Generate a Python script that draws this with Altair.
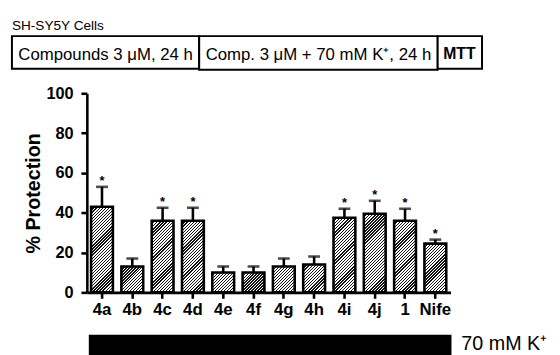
import math
import altair as alt
import pandas as pd

# ---- data ----
categories = ["4a", "4b", "4c", "4d", "4e", "4f", "4g", "4h", "4i", "4j", "1", "Nife"]
means = [43, 13, 36, 36, 10, 10, 13, 14, 37.5, 39.5, 36, 24.5]
sems = [10, 4, 6.5, 6.5, 3, 3, 4, 4, 4.5, 6.5, 6, 2]
significant = [True, False, True, True, False, False, False, False, True, True, True, True]
y_ticks = [0, 20, 40, 60, 80, 100]
header_title = "SH-SY5Y Cells"
stage_labels = ["Compounds 3 \u03bcM, 24 h", "Comp. 3 \u03bcM + 70 mM K\u207a, 24 h", "MTT"]
treatment_label = "70 mM K\u207a"
y_title = "% Protection"

# ---- layout / style ----
W, H = 369, 202
PAD_IN, PAD_OUT = 0.28, 0.14
FONT = "Liberation Sans"
LW = 2.6

df = pd.DataFrame({
    "cat": categories,
    "mean": means,
    "upper": [m + s for m, s in zip(means, sems)],
    "star": ["*" if s else "" for s in significant],
})

step = W / (len(categories) - PAD_IN + 2 * PAD_OUT)
bw = step * (1 - PAD_IN)


def hatch(v, period=2.2, dark=0.42):
    w = bw
    h = max(v / 100 * H, 1)
    s = (w + h) / (w * w + h * h)
    length = (w + h) / math.sqrt(2)
    n = max(1, round(length / period))
    stops = []
    for k in range(n):
        a = k / n
        b = (k + dark) / n
        stops += [
            {"offset": a, "color": "#111111"},
            {"offset": b, "color": "#111111"},
            {"offset": b, "color": "#ffffff"},
            {"offset": (k + 1) / n, "color": "#ffffff"},
        ]
    return {"gradient": "linear", "x1": 0, "y1": 0, "x2": s * w, "y2": s * h, "stops": stops}


fill_conditions = [
    {"test": f"datum.cat === '{c}'", "value": hatch(m)} for c, m in zip(categories, means)
]

x_enc = alt.X(
    "cat:N",
    sort=None,
    scale=alt.Scale(domain=categories, paddingInner=PAD_IN, paddingOuter=PAD_OUT),
    axis=alt.Axis(
        title=None, labelAngle=0, labelFont=FONT, labelFontSize=17, labelFontWeight="bold",
        labelColor="black", tickSize=6, tickWidth=LW, tickColor="black", domainWidth=LW,
        domainColor="black", labelPadding=3, bandPosition=0.5, grid=False,
    ),
)
y_enc = alt.Y(
    "mean:Q",
    scale=alt.Scale(domain=[0, 100], nice=False, zero=True),
    axis=alt.Axis(
        values=y_ticks, title=y_title, titleFont=FONT, titleFontSize=20, titleFontWeight="bold",
        titleColor="black", titleAngle=270, titleX=-48, titleY=H / 2, titleAlign="center",
        titleBaseline="alphabetic", labelFont=FONT, labelFontSize=16.5, labelFontWeight="bold",
        labelColor="black", tickSize=6, tickWidth=LW, tickColor="black", domainWidth=LW,
        domainColor="black", labelPadding=8, grid=False,
    ),
)

base = alt.Chart(df)

bars = base.mark_bar(stroke="black", strokeWidth=LW, strokeJoin="miter").encode(
    x=x_enc,
    y=y_enc,
    fill=alt.value("white", condition=fill_conditions),
)
err = base.mark_rule(color="black", strokeWidth=LW).encode(
    x=alt.X("cat:N", sort=None), y="mean:Q", y2="upper:Q"
)
caps = base.mark_tick(color="black", size=12, thickness=LW).encode(
    x=alt.X("cat:N", sort=None), y="upper:Q"
)
stars = base.mark_text(
    font=FONT, fontSize=13, fontWeight="bold", baseline="alphabetic", dy=-2, color="black"
).encode(x=alt.X("cat:N", sort=None), y="upper:Q", text="star:N")

one = alt.Data(values=[{}])


def box(x0, x1, y0, y1, fill="white", sw=2):
    return alt.Chart(one).mark_rect(fill=fill, stroke="black", strokeWidth=sw).encode(
        x=alt.value(x0), x2=alt.value(x1), y=alt.value(y0), y2=alt.value(y1)
    )


def label(txt, x, y, size, align="center", weight="normal"):
    return alt.Chart(one).mark_text(
        text=txt, font=FONT, fontSize=size, fontWeight=weight, align=align,
        baseline="alphabetic", color="black",
    ).encode(x=alt.value(x), y=alt.value(y))


deco = [
    label(header_title, -76, -64, 13.8, align="left"),
    box(-76, 114, -58, -25),
    box(114, 356, -58, -24),
    box(356, 401, -58, -25),
    label(stage_labels[0], 19, -34, 17),
    label(stage_labels[1], 235, -34, 17),
    label(stage_labels[2], 378, -35, 16, weight="bold"),
    box(2, 370, 245, 290, fill="black", sw=0),
    label(treatment_label, 380, 260, 20, align="left"),
]

chart = alt.layer(bars, err, caps, stars, *deco).properties(
    width=W,
    height=H,
    autosize=alt.AutoSizeParams(type="none"),
    padding={"left": 80, "top": 84, "right": 103, "bottom": 61},
).configure_view(stroke=None)

chart.save("out.html", embed_options={"renderer": "svg", "actions": False})
